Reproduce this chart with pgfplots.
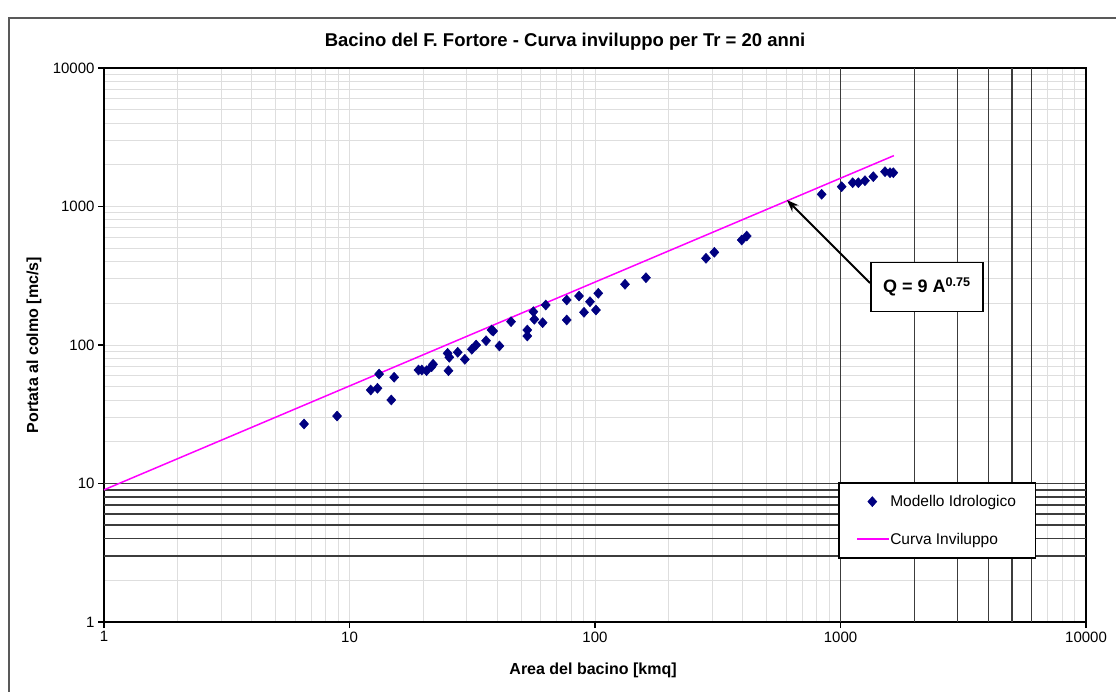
\documentclass[border=0pt]{standalone}
\usepackage{pgfplots}
\pgfplotsset{compat=1.18}
\usepackage{fontspec}
\setmainfont{Liberation Sans}
\usetikzlibrary{arrows.meta}
\definecolor{navyblue}{RGB}{0,0,128}
\definecolor{gridgray}{RGB}{222,222,222}
\definecolor{darkline}{RGB}{60,60,60}
\definecolor{curvemag}{RGB}{255,0,255}
\pgfplotsset{
  legmark/.style={legend image code/.code={\draw[mark repeat=2, mark phase=2, ##1] plot coordinates {(0pt,0pt) (16pt,0pt) (32pt,0pt)};}},
}
\begin{document}
\begin{tikzpicture}
\clip (0,0) rectangle (1116pt,-691pt);
\fill[white] (0,0) rectangle (1116pt,-691pt);
\draw[line width=2pt, black!65] (9pt,-18pt) rectangle (1150pt,-720pt);
\begin{axis}[
  scale only axis, width=982pt, height=554pt,
  at={(104pt,-622pt)}, anchor=south west,
  xmode=log, ymode=log,
  xmin=1, xmax=10000, ymin=1, ymax=10000,
  xtick={1,10,100,1000,10000}, xticklabels={1,10,100,1000,10000},
  ytick={1,10,100,1000,10000}, yticklabels={1,10,100,1000,10000},
  minor xtick={2,3,4,5,6,7,8,9,20,30,40,50,60,70,80,90,200,300,400,500,600,700,800,900,2000,3000,4000,5000,6000,7000,8000,9000},
  minor ytick={2,3,4,5,6,7,8,9,20,30,40,50,60,70,80,90,200,300,400,500,600,700,800,900,2000,3000,4000,5000,6000,7000,8000,9000},
  grid=both,
  major grid style={gridgray, line width=1pt},
  minor grid style={gridgray, line width=1pt},
  extra x ticks={1000,2000,3000,4000,5000,6000},
  extra x tick style={xticklabel={}, grid=major, major grid style={darkline, line width=1.5pt}, major tick length=0pt},
  extra y ticks={3,4,5,6,7,8,9,10},
  extra y tick style={yticklabel={}, grid=major, major grid style={darkline, line width=1.5pt}, major tick length=0pt},
  xtick pos=bottom, ytick pos=left,
  tick align=outside, major tick length=6pt, minor tick length=0pt,
  tick style={line width=1.5pt, black},
  axis line style={line width=1.5pt, black},
  tick label style={font=\fontsize{15}{18}\selectfont, black},
  title={Bacino del F. Fortore - Curva inviluppo per Tr = 20 anni},
  title style={font=\bfseries\fontsize{18.5}{22}\selectfont, at={(axis description cs:0.4695,1)}, anchor=base, yshift=16pt},
  xlabel={Area del bacino [kmq]},
  xlabel style={font=\bfseries\fontsize{16}{19}\selectfont, at={(axis description cs:0.498,0)}, anchor=base, yshift=-52pt},
  ylabel={Portata al colmo [mc/s]},
  ylabel style={font=\bfseries\fontsize{16}{19}\selectfont, at={(axis description cs:-0.0713,0.5)}, anchor=center},
  legend style={at={(axis description cs:0.7475,0.2527)}, anchor=north west, draw=black, line width=1.5pt, fill=white,
    font=\fontsize{15.5}{18}\selectfont, inner xsep=17.5pt, inner ysep=10.5pt, row sep=21pt, nodes={inner sep=2pt}},
  legend cell align=left,
]
\addplot[only marks, mark=diamond*, mark size=5pt, color=navyblue, mark options={line width=0.5pt, xscale=1.2}, legmark]
coordinates {
(6.53,26.9) (8.9,30.7) (12.2,47.3) (13.0,48.7) (13.2,61.7) (14.8,40.1) (15.2,58.5)
(19.1,66.0) (19.7,66.0) (20.6,65.2) (21.6,69.7) (21.9,72.6) (25.1,87.1) (25.5,81.5)
(25.3,65.2) (27.6,88.6) (29.5,78.8) (31.5,93.1) (32.8,100) (36.0,107.4) (37.9,128.3)
(38.5,126) (40.8,98.4) (45.5,147.4) (53.0,128.3) (53.0,116.1) (56.1,174) (56.6,153.3)
(61.2,144.9) (63.0,194.4) (76.7,211.3) (76.7,151.6) (86.1,225.8) (90.2,172.2) (95.4,205.4)
(100.9,178.9) (103.1,236.3) (132.5,274.4) (161.3,306.2) (283.2,422.7) (306.2,467)
(396,573) (414.9,612) (838,1225) (1011,1390) (1121,1485) (1182,1485) (1258,1536)
(1360,1642) (1518,1784) (1591,1754) (1641,1754)
};
\addlegendentry{Modello Idrologico}
\addplot[draw=curvemag, color=curvemag, line width=1.5pt,
  legend image code/.code={\pgfpathrectangle{\pgfpoint{0pt}{-1pt}}{\pgfpoint{32pt}{2pt}}\pgfusepath{use as bounding box}}]
coordinates {(1,9) (1650,2330)};
\addlegendentry{Curva Inviluppo}
\draw[-{Stealth[length=12pt,width=9pt]}, line width=2pt, black] (axis cs:1319,280.4) -- (axis cs:605,1114);
\node[draw=black, line width=1.5pt, fill=white, minimum width=112pt, minimum height=49pt,
  font=\bfseries\fontsize{18}{21}\selectfont, inner sep=0pt] at (axis cs:2249,261.5) {Q = 9 A\textsuperscript{0.75}};
\end{axis}
% legend sample line for "Curva Inviluppo"
\draw[curvemag, line width=1.6pt] (857pt,-539pt) -- (889pt,-539pt);
\end{tikzpicture}
\end{document}
